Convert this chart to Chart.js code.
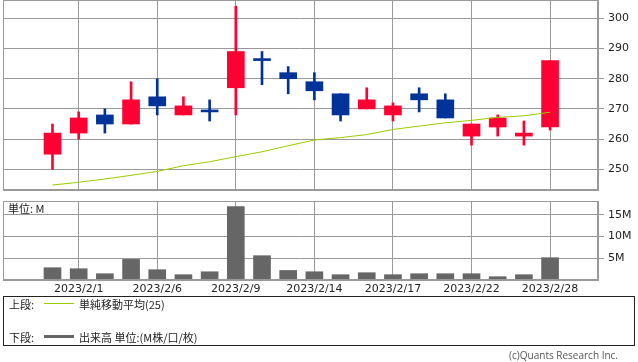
<!DOCTYPE html>
<html>
<head>
<meta charset="utf-8">
<script src="https://cdn.jsdelivr.net/npm/chart.js@4/dist/chart.umd.min.js"></script>
<style>
    body { margin: 0; background: #fff; }
    #wrap { position: relative; width: 638px; height: 362px; overflow: hidden; font-family: "Noto Sans CJK JP", sans-serif; color: #222; }
    #priceBox { position: absolute; left: 0; top: 0; }
    #volumeBox { position: absolute; left: 0; top: 198px; }
    #unit { position: absolute; left: 8px; top: 201px; font-size: 11px; line-height: 14px; }
    #legend { position: absolute; left: 3px; top: 296px; width: 632px; height: 50px; box-sizing: border-box; border: 1px solid #222; font-size: 11px; }
    .row { position: absolute; left: 5px; height: 14px; line-height: 14px; }
    .row span { position: absolute; white-space: nowrap; }
    .swatch { position: absolute; left: 35px; width: 30px; }
    #copy { position: absolute; right: 20px; top: 348px; font-family: "Open Sans", sans-serif; font-size: 10px; line-height: 14px; color: #555; }
</style>
</head>
<body>
<div id="wrap">
    <div id="priceBox"><canvas id="priceChart" width="638" height="191"></canvas></div>
    <div id="volumeBox"><canvas id="volumeChart" width="638" height="100"></canvas></div>
    <div id="unit">単位: M</div>
    <div id="legend">
        <div class="row" style="top: 0px;">
            <span style="left: 0;">上段:</span>
            <div class="swatch" style="top: 6px; height: 1px; background: #99cc00;"></div>
            <span style="left: 70px;">単純移動平均(25)</span>
        </div>
        <div class="row" style="top: 33px;">
            <span style="left: 0;">下段:</span>
            <div class="swatch" style="top: 5px; height: 3px; background: #666666;"></div>
            <span style="left: 70px;">出来高 単位:(M株/口/枚)</span>
        </div>
    </div>
    <div id="copy">(c)Quants Research Inc.</div>
</div>
<script>
// daily prices
var dates = ['2023/1/31', '2023/2/1', '2023/2/2', '2023/2/3', '2023/2/6', '2023/2/7', '2023/2/8',
    '2023/2/9', '2023/2/10', '2023/2/13', '2023/2/14', '2023/2/15', '2023/2/16', '2023/2/17',
    '2023/2/20', '2023/2/21', '2023/2/22', '2023/2/24', '2023/2/27', '2023/2/28'];
var openPrices = [255, 262, 268, 265, 274, 268, 269, 277, 286, 282, 279, 275, 270, 268, 275, 273, 261, 264, 261, 264];
var highPrices = [265, 269, 270, 279, 280, 274, 273, 304, 289, 284, 282, 275, 277, 272, 277, 275, 265, 268, 266, 286];
var lowPrices = [250, 260, 262, 265, 268, 268, 266, 268, 278, 275, 273, 266, 270, 266, 269, 267, 258, 261, 258, 263];
var closePrices = [262, 267, 265, 273, 271, 271, 269, 289, 286, 280, 276, 268, 273, 271, 273, 267, 265, 267, 262, 286];
var ma25 = [244.8, 245.7, 246.8, 248.0, 249.3, 251.2, 252.5, 254.2, 255.8, 257.8, 259.7, 260.5, 261.5, 263.2, 264.3, 265.4, 266.2, 267.2, 267.7, 268.9];
var volumes = [2.83, 2.6, 1.45, 4.75, 2.37, 1.22, 1.9, 16.9, 5.6, 2.2, 1.9, 1.22, 1.68, 1.22, 1.45, 1.45, 1.45, 0.76, 1.22, 5.14];

// axis ticks
var labelDates = ['2023/2/1', '2023/2/6', '2023/2/9', '2023/2/14', '2023/2/17', '2023/2/22', '2023/2/28'];
var priceTicks = [250, 260, 270, 280, 290, 300];
var volumeTicks = [5, 10, 15];

var UP = '#ff0033';
var DOWN = '#003399';
var GRID = '#999999';

Chart.defaults.font.family = 'DejaVu Sans';
Chart.defaults.font.size = 11;
Chart.defaults.color = '#222';

var labelIndexes = labelDates.map(function (d) { return dates.indexOf(d); });
var candleColors = openPrices.map(function (o, i) { return closePrices[i] > o ? UP : DOWN; });

// frame round the plot area
var framePlugin = {
    id: 'frame',
    afterDraw: function (chart) {
        var a = chart.chartArea;
        var c = chart.ctx;
        c.save();
        c.strokeStyle = GRID;
        c.lineWidth = 1;
        var l = Math.round(a.left) + 0.5, t = Math.round(a.top) + 0.5;
        var r = Math.round(a.right) - 0.5, b = Math.round(a.bottom) - 0.5;
        c.strokeRect(l, t, r - l, b - t);
        c.restore();
    }
};

function xAxis(showLabels) {
    return {
        type: 'linear',
        min: -1.89,
        max: 20.83,
        offset: false,
        grid: { color: GRID, drawTicks: false, offset: false },
        border: { color: GRID },
        ticks: {
            display: showLabels,
            padding: 3,
            maxRotation: 0,
            autoSkip: false,
            callback: function (value) { return dates[value]; }
        },
        afterBuildTicks: function (scale) {
            scale.ticks = labelIndexes.map(function (v) { return { value: v }; });
        },
        afterFit: function (scale) {
            scale.height = showLabels ? 18 : 0;
            scale.paddingLeft = 0;
            scale.paddingRight = 0;
        }
    };
}

function yAxis(min, max, tickList, suffix) {
    return {
        type: 'linear',
        position: 'right',
        min: min,
        max: max,
        grid: { color: GRID, tickLength: 6 },
        border: { color: GRID },
        ticks: {
            padding: 4,
            callback: function (value) { return value + suffix; }
        },
        afterBuildTicks: function (scale) {
            scale.ticks = tickList.map(function (v) { return { value: v }; });
        },
        afterFit: function (scale) {
            scale.width = 40;
            scale.paddingTop = 0;
            scale.paddingBottom = 0;
        }
    };
}

var commonPlugins = { legend: { display: false }, tooltip: { enabled: false } };

var priceChart = new Chart(document.getElementById('priceChart'), {
    type: 'bar',
    data: {
        datasets: [{
            type: 'line',
            data: ma25.map(function (v, i) { return { x: i, y: v }; }),
            borderColor: '#99cc00',
            borderWidth: 1,
            pointRadius: 0,
            tension: 0,
            order: 0
        }, {
            data: openPrices.map(function (o, i) { return { x: i, y: [o, closePrices[i]] }; }),
            backgroundColor: candleColors,
            barThickness: 17,
            minBarLength: 2,
            grouped: false,
            order: 1
        }, {
            data: lowPrices.map(function (l, i) { return { x: i, y: [l, highPrices[i]] }; }),
            backgroundColor: candleColors,
            barThickness: 2,
            grouped: false,
            order: 2
        }]
    },
    options: {
        responsive: false,
        animation: false,
        layout: { padding: { left: 3, right: 0, top: 0, bottom: 1 } },
        scales: {
            x: xAxis(false),
            y: yAxis(243.15, 306.06, priceTicks, '')
        },
        plugins: commonPlugins
    },
    plugins: [framePlugin]
});

var volumeChart = new Chart(document.getElementById('volumeChart'), {
    type: 'bar',
    data: {
        datasets: [{
            data: volumes.map(function (v, i) { return { x: i, y: v }; }),
            backgroundColor: '#666666',
            barThickness: 17,
            grouped: false
        }]
    },
    options: {
        responsive: false,
        animation: false,
        layout: { padding: { left: 3, right: 0, top: 3, bottom: 0 } },
        scales: {
            x: xAxis(true),
            y: yAxis(0, 18.2, volumeTicks, 'M')
        },
        plugins: commonPlugins
    },
    plugins: [framePlugin]
});
</script>
</body>
</html>
